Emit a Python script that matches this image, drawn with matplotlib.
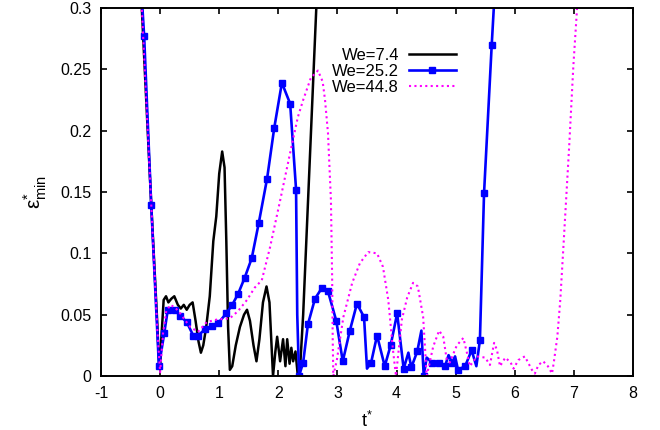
import matplotlib
matplotlib.use("Agg")
import matplotlib.pyplot as plt
from matplotlib.ticker import FormatStrFormatter, MultipleLocator

plt.rcParams['font.family'] = ['Liberation Sans', 'DejaVu Sans']
plt.rcParams['mathtext.fontset'] = 'custom'
plt.rcParams['mathtext.rm'] = 'Liberation Sans'
plt.rcParams['mathtext.it'] = 'Liberation Sans'
plt.rcParams['mathtext.default'] = 'regular'
plt.rcParams['axes.unicode_minus'] = False

# We=7.4
black_t = [-0.35, -0.31, -0.15, -0.05, -0.02, 0.0, 0.02, 0.06, 0.1, 0.14, 0.19,
           0.24, 0.3, 0.35, 0.4, 0.45, 0.5, 0.55, 0.6, 0.65, 0.69, 0.73, 0.78,
           0.84, 0.9, 0.95, 1.0, 1.05, 1.09, 1.12, 1.15, 1.18, 1.22, 1.28, 1.35,
           1.42, 1.47, 1.52, 1.58, 1.63, 1.68, 1.74, 1.8, 1.85, 1.88, 1.91,
           1.95, 1.98, 2.03, 2.08, 2.12, 2.15, 2.19, 2.22, 2.25, 2.29, 2.33,
           2.36, 2.42, 2.5, 2.58, 2.66]
black_y = [0.34, 0.30, 0.14, 0.045, 0.012, 0.006, 0.03, 0.062, 0.065, 0.06, 0.063,
           0.065, 0.058, 0.055, 0.058, 0.054, 0.058, 0.06, 0.045, 0.028, 0.019, 0.025, 0.04,
           0.065, 0.11, 0.13, 0.165, 0.183, 0.17, 0.11, 0.04, 0.005, 0.008, 0.025, 0.04,
           0.05, 0.054, 0.045, 0.025, 0.012, 0.03, 0.06, 0.073, 0.06, 0.03, 0.0,
           0.02, 0.032, 0.012, 0.03, 0.008, 0.03, 0.01, 0.023, 0.012, 0.02, 0.0,
           0.0, 0.05, 0.14, 0.23, 0.32]

# We=25.2
blue_t = [-0.35, -0.27, -0.15, -0.02, 0.07, 0.13, 0.25, 0.34, 0.45, 0.56, 0.64,
          0.76, 0.88, 0.98, 1.12, 1.22, 1.32, 1.43, 1.55, 1.67, 1.81, 1.93,
          2.06, 2.20, 2.30, 2.32, 2.35, 2.42, 2.5, 2.62, 2.74, 2.84, 2.98,
          3.09, 3.21, 3.33, 3.45, 3.5, 3.57, 3.67, 3.8, 3.9, 4.01, 4.12, 4.2,
          4.25, 4.35, 4.42, 4.46, 4.51, 4.6, 4.71, 4.82, 4.88, 4.94, 4.99,
          5.04, 5.16, 5.27, 5.35, 5.41, 5.48, 5.61, 5.68]
blue_y = [0.34, 0.277, 0.139, 0.008, 0.035, 0.054, 0.054, 0.049, 0.044, 0.033, 0.033,
          0.038, 0.041, 0.043, 0.051, 0.058, 0.067, 0.080, 0.096, 0.125, 0.161, 0.202,
          0.239, 0.222, 0.152, 0.05, 0.0, 0.011, 0.042, 0.063, 0.072, 0.069, 0.045,
          0.012, 0.037, 0.059, 0.048, 0.006, 0.011, 0.033, 0.008, 0.025, 0.051, 0.006, 0.019,
          0.007, 0.02, 0.037, 0.0, 0.015, 0.011, 0.011, 0.008, 0.017, 0.011, 0.016,
          0.005, 0.008, 0.021, 0.008, 0.029, 0.149, 0.270, 0.33]
blue_mark = [0, 1, 1, 1, 1, 1, 1, 1, 1, 1, 1,
             1, 1, 1, 1, 1, 1, 1, 1, 1, 1, 1,
             1, 1, 1, 0, 1, 1, 1, 1, 1, 1, 1,
             1, 1, 1, 1, 0, 1, 1, 1, 1, 1, 1, 0,
             1, 1, 0, 1, 0, 1, 1, 1, 0, 1, 0,
             1, 1, 1, 0, 1, 1, 1, 0]

# We=44.8
mag_t = [-0.35, -0.31, -0.15, -0.05, 0.0, 0.05, 0.1, 0.17, 0.25, 0.34, 0.43,
         0.51, 0.64, 0.79, 0.96, 1.18, 1.32, 1.47, 1.6, 1.72, 1.86, 2.03,
         2.2, 2.33, 2.42, 2.55, 2.67, 2.75, 2.79, 2.84, 2.89, 2.91, 2.92,
         2.93, 2.99, 3.1, 3.25, 3.38, 3.52, 3.67, 3.77, 3.86, 3.94, 3.99,
         4.09, 4.18, 4.28, 4.36, 4.45, 4.51, 4.62, 4.72, 4.79, 4.85, 4.9,
         5.02, 5.13, 5.19, 5.24, 5.36, 5.5, 5.58, 5.65, 5.7, 5.75, 5.84,
         5.93, 5.98, 6.06, 6.17, 6.29, 6.34, 6.40, 6.48, 6.56, 6.63, 6.66,
         6.72, 6.77, 6.82, 6.92, 6.99, 7.05, 7.08]
mag_y = [0.34, 0.30, 0.14, 0.04, 0.003, 0.035, 0.052, 0.058, 0.056, 0.051, 0.045,
         0.04, 0.036, 0.044, 0.046, 0.047, 0.053, 0.062, 0.072, 0.078, 0.105, 0.143,
         0.182, 0.211, 0.225, 0.243, 0.249, 0.24, 0.225, 0.198, 0.143, 0.081, 0.03,
         0.0, 0.013, 0.048, 0.076, 0.092, 0.101, 0.1, 0.089, 0.062, 0.021, 0.0,
         0.046, 0.064, 0.076, 0.073, 0.048, 0.0, 0.024, 0.037, 0.032, 0.013, 0.011,
         0.025, 0.031, 0.019, 0.008, 0.016, 0.015, 0.009, 0.027, 0.021, 0.008, 0.015,
         0.011, 0.006, 0.013, 0.016, 0.005, 0.002, 0.009, 0.012, 0.008, 0.002, 0.011,
         0.032, 0.062, 0.103, 0.187, 0.252, 0.297, 0.33]

labels = ["We=7.4", "We=25.2", "We=44.8"]

fig = plt.figure(figsize=(6.6, 4.3), dpi=100)
ax = fig.add_axes([101 / 660, 54 / 430, 532 / 660, 368 / 430])

ax.plot(black_t, black_y, color='black', lw=1.8, label=labels[0])
marks = [i for i, m in enumerate(blue_mark) if m]
ax.plot(blue_t, blue_y, color='#0000ff', lw=1.9, marker='s', markersize=5,
        markevery=marks, label=labels[1])
ax.plot(mag_t, mag_y, color='#ff00ff', lw=1.5, linestyle=(0, (1, 1.6)),
        label=labels[2])

ax.set_xlim(-1, 8)
ax.set_ylim(0, 0.3)
ax.xaxis.set_major_locator(MultipleLocator(1))
ax.yaxis.set_major_locator(MultipleLocator(0.05))
ax.yaxis.set_major_formatter(FormatStrFormatter('%g'))
ax.tick_params(direction='in', length=4, width=1.2, labelsize=11.5,
               top=True, right=True, pad=7)
for s in ax.spines.values():
    s.set_linewidth(1.4)

ax.set_xlabel(r'$t^{*}$', fontsize=13, labelpad=7)
ax.set_ylabel(r'$\varepsilon^{*}_{min}$', fontsize=15, labelpad=8)

leg = ax.legend(loc='upper right', bbox_to_anchor=(464 / 660, 390 / 430),
                bbox_transform=fig.transFigure, frameon=False, markerfirst=False,
                fontsize=12, handlelength=2.8, handletextpad=0.6,
                labelspacing=0.05, borderpad=0, numpoints=1)

fig.savefig('out.png', dpi=100)
